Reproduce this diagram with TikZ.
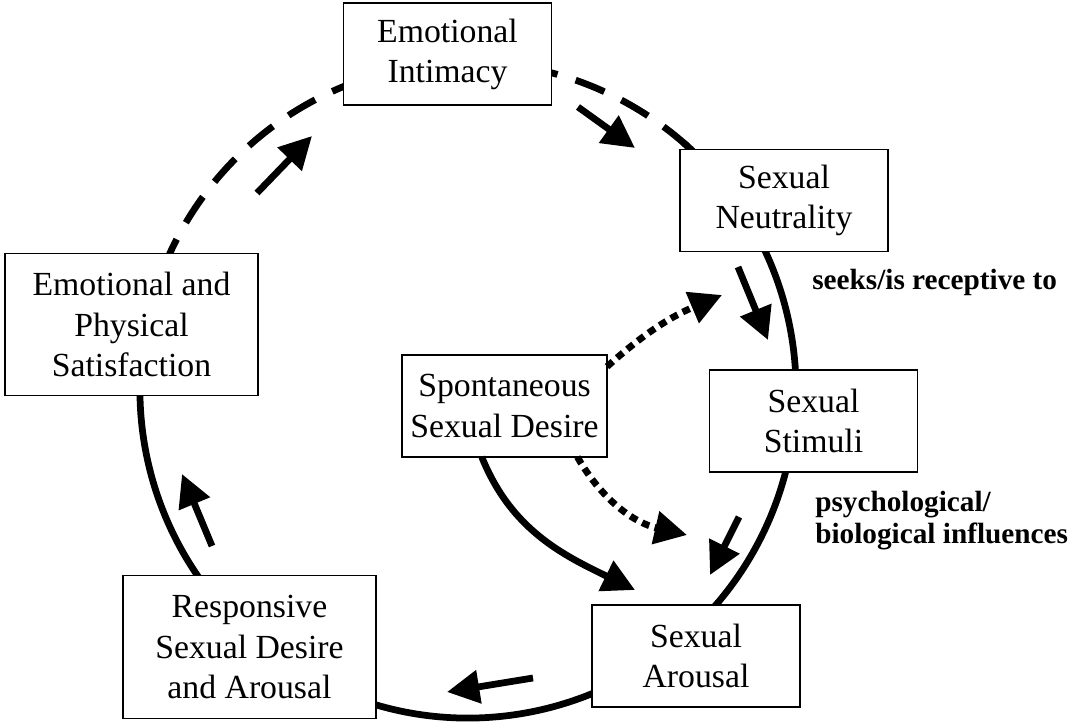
\documentclass[tikz,border=0pt]{standalone}
\usepackage{fontspec}
\setmainfont{Liberation Serif}
\usetikzlibrary{arrows.meta}

\begin{document}
\begin{tikzpicture}[x=0.025cm, y=0.025cm, font=\fontsize{24}{28.5}\selectfont]

% ---- Define Styles ----
\tikzset{
  stagebox/.style={
    draw=black, line width=0.8pt, fill=white, minimum width=5.2cm, minimum height=2.55cm,
    align=center, inner sep=0pt, outer sep=0pt
  },
  widebox/.style={
    stagebox, minimum width=6.325cm, minimum height=3.57cm
  },
  ring/.style={line width=4.8pt},
  ringdash/.style={ring, dash pattern=on 22pt off 13.5pt},
  flowarrow/.style={line width=4.8pt, -{Triangle[length=23pt, width=23pt]}},
  dotarrow/.style={flowarrow, dash pattern=on 5.5pt off 4pt},
  sidelabel/.style={font=\fontsize{20.8}{22.5}\selectfont\bfseries, align=left, inner sep=0pt}
}

\useasboundingbox (0,0) rectangle (1069,724);

% =========================================================
% THE CYCLE (drawn first, boxes cover it)
% centre at (468,334), radius 328
% =========================================================
\coordinate (hub) at (468,334);
\draw[ringdash] (hub) ++(48:328) arc[start angle=48, end angle=156, radius=328];
\draw[ring] (hub) ++(156:328) arc[start angle=156, end angle=409, radius=328];

% =========================================================
% STAGES
% =========================================================
\node[stagebox] (intim) at (447.5,670) {Emotional\\Intimacy};
\node[stagebox] (neutr) at (784,523.5) {Sexual\\Neutrality};
\node[stagebox] (stim)  at (813.5,303) {Sexual\\Stimuli};
\node[stagebox] (arous) at (696,68)    {Sexual\\Arousal};
\node[widebox]  (resp)  at (249.5,77)  {Responsive\\Sexual Desire\\and Arousal};
\node[widebox]  (satis) at (131.5,399.5) {Emotional and\\Physical\\Satisfaction};
\node[stagebox, minimum width=5.125cm] (spont) at (504.5,318) {Spontaneous\\Sexual Desire};

% =========================================================
% SHORT ARROWS ALONG THE CYCLE
% tail x/y / head x/y
% =========================================================
\foreach \n/\tx/\ty/\hx/\hy in {1/257/531/312/588, 2/578/617/635/576, 3/738/457/768/384,
                                4/739/207/710/149, 5/533/46/447/32, 6/212/178/182/250} {
  \coordinate (tail\n) at (\tx,\ty);
  \coordinate (head\n) at (\hx,\hy);
  \draw[flowarrow] (tail\n) -- (head\n);
}

% =========================================================
% ARROWS FROM SPONTANEOUS SEXUAL DESIRE
% =========================================================
\coordinate (arousin) at (635,134);
\coordinate (neutrin) at (722,429);
\coordinate (stimin)  at (687,189);

\draw[flowarrow] (spont.-114) to[out=-68, in=154] (arousin);
\draw[dotarrow] (spont.21) to[out=42, in=-157] (neutrin);
\draw[dotarrow] (spont.-35) to[out=-60, in=167] (stimin);

% =========================================================
% SIDE LABELS
% =========================================================
\node[sidelabel, anchor=base west] (seeks) at (812,434) {seeks/is receptive to};
\node[sidelabel, anchor=base west] (influ) at (815,181) {psychological/\\biological influences};

\end{tikzpicture}
\end{document}
